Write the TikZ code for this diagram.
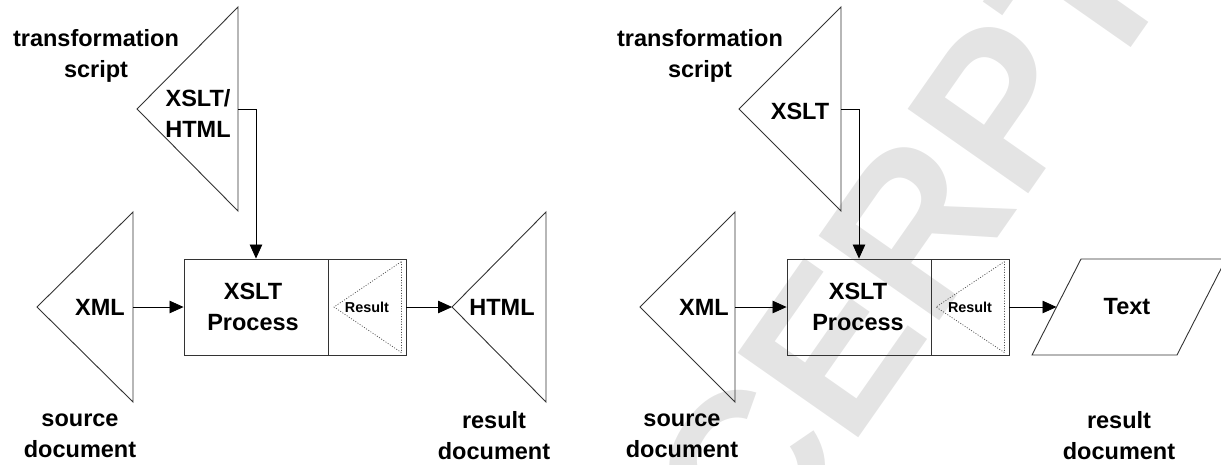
\documentclass[tikz,border=0pt]{standalone}
\usepackage{fontspec}
\setmainfont{Liberation Sans}
\usetikzlibrary{arrows.meta}
\definecolor{wm}{HTML}{E4E4E4}
\definecolor{edge}{HTML}{333333}
\tikzset{
  lbl/.style={font=\fontsize{23.5}{31}\selectfont\bfseries, align=center, inner sep=0},
  small/.style={font=\fontsize{14.4}{16}\selectfont\bfseries, inner sep=0},
  shapeline/.style={draw=edge, line width=0.9pt, line join=miter},
  procbox/.style={shapeline, minimum width=144pt, minimum height=96pt, inner sep=0},
  resbox/.style={shapeline, minimum width=78pt, minimum height=96pt, inner sep=0},
  dotline/.style={draw=black!70, line width=0.7pt, dash pattern=on 1pt off 1.6pt},
  arr/.style={draw=black, line width=0.8pt, -{Triangle[length=14pt, width=12.5pt]}},
}
\begin{document}
\begin{tikzpicture}[x=1pt, y=-1pt]
\useasboundingbox (0,0) rectangle (1221,464);

% watermark
\node[rotate=55, anchor=base west, inner sep=0, text=wm,
      font=\fontsize{214}{214}\selectfont\bfseries] (wmark) at (597.6,809.9) {EXCERPT};

% ---------------- left: XSLT/HTML to HTML ----------------
% transformation script
\coordinate (a1) at (238,7); \coordinate (a2) at (238,211); \coordinate (a3) at (137,109);
\draw[shapeline] (a1) -- (a2) -- (a3) -- cycle;
\coordinate (aout) at (238,109);
\node[lbl] (alab) at (198,113) {XSLT/\\HTML};
\node[lbl] (atxt) at (96,56) {transformation\\script};

% source
\coordinate (b1) at (133,212); \coordinate (b2) at (133,402); \coordinate (b3) at (37,307);
\draw[shapeline] (b1) -- (b2) -- (b3) -- cycle;
\coordinate (bout) at (133,307);
\node[lbl] (blab) at (100,307) {XML};
\node[lbl] (btxt) at (80,436) {source\\document};

% process
\node[procbox] (p1) at (256,307) {};
\node[lbl] (p1lab) at (253,307) {XSLT\\Process};
\node[resbox] (r1) at (367,307) {};
\draw[dotline] (r1.north east) ++(-5,3) coordinate (d1) -- ++(0,91) coordinate (d2) -- (334,307) coordinate (d3) -- cycle;
\node[small] (r1lab) at (367,307) {Result};

% result
\coordinate (c1) at (452,307); \coordinate (c2) at (546,212); \coordinate (c3) at (546,402);
\draw[shapeline] (c1) -- (c2) -- (c3) -- cycle;
\node[lbl] (clab) at (502,307) {HTML};
\node[lbl] (ctxt) at (494,436) {result\\document};

\draw[arr] (aout) -| (p1.north);
\draw[arr] (bout) -- (p1.west);
\draw[arr] (r1.east) -- (c1);

% ---------------- right: XSLT to text ----------------
\coordinate (e1) at (841,7); \coordinate (e2) at (841,211); \coordinate (e3) at (739,109);
\draw[shapeline] (e1) -- (e2) -- (e3) -- cycle;
\coordinate (eout) at (841,109);
\node[lbl] (elab) at (800,111) {XSLT};
\node[lbl] (etxt) at (700,56) {transformation\\script};

\coordinate (f1) at (735,212); \coordinate (f2) at (735,402); \coordinate (f3) at (640,307);
\draw[shapeline] (f1) -- (f2) -- (f3) -- cycle;
\coordinate (fout) at (735,307);
\node[lbl] (flab) at (704,307) {XML};
\node[lbl] (ftxt) at (682,436) {source\\document};

\node[procbox] (p2) at (859,307) {};
\node[lbl] (p2lab) at (858,307) {XSLT\\Process};
\node[resbox] (r2) at (970,307) {};
\draw[dotline] (r2.north east) ++(-5,3) coordinate (g1) -- ++(0,91) coordinate (g2) -- (936,307) coordinate (g3) -- cycle;
\node[small] (r2lab) at (970,307) {Result};

% text output
\coordinate (h1) at (1081,259); \coordinate (h2) at (1226,259);
\coordinate (h3) at (1177,355); \coordinate (h4) at (1032,355);
\draw[shapeline] (h1) -- (h2) -- (h3) -- (h4) -- cycle;
\coordinate (hin) at (1056.5,307);
\node[lbl] (hlab) at (1127,307) {Text};
\node[lbl] (htxt) at (1119,436) {result\\document};

\draw[arr] (eout) -| (p2.north);
\draw[arr] (fout) -- (p2.west);
\draw[arr] (r2.east) -- (hin);
\end{tikzpicture}
\end{document}
